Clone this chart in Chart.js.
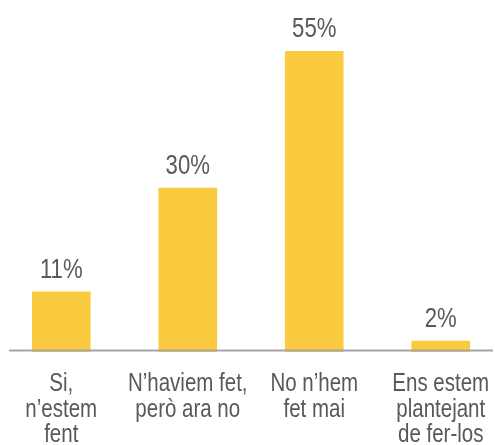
<!DOCTYPE html>
<html>
<head>
<meta charset="utf-8">
<script src="https://cdn.jsdelivr.net/npm/chart.js@4.4.0/dist/chart.umd.min.js"></script>
<style>
    html, body { margin: 0; padding: 0; background: #fff; overflow: hidden; }
    #wrap { position: absolute; left: -2px; top: 0; width: 506px; height: 445px; }
</style>
</head>
<body>
<div id="wrap"><canvas id="chart" width="506" height="445"></canvas></div>
<script>
// Chart data
const categories = [
    ['Si,', 'n\u2019estem', 'fent'],
    ['N\u2019haviem fet,', 'però ara no'],
    ['No n\u2019hem', 'fet mai'],
    ['Ens estem', 'plantejant', 'de fer-los']
];
const values = [11, 30, 55, 2];
const valueLabels = ['11%', '30%', '55%', '2%'];

const fontFamily = '"Liberation Sans", Arial, sans-serif';
const textColor = '#595959';
const narrow = 0.82; // the original uses a narrow face, so squeeze the text horizontally

function drawNarrowText(ctx, text, x, y) {
    ctx.save();
    ctx.translate(x, y);
    ctx.scale(narrow, 1);
    ctx.fillText(text, 0, 0);
    ctx.restore();
}

// Percentages above the bars and category names under the axis
const labelPlugin = {
    id: 'narrowLabels',
    afterDatasetsDraw: function(chart) {
        const ctx = chart.ctx;
        const meta = chart.getDatasetMeta(0);
        const xScale = chart.scales.x;
        const bottom = chart.chartArea.bottom;
        ctx.save();
        ctx.fillStyle = textColor;
        ctx.textAlign = 'center';
        ctx.textBaseline = 'alphabetic';

        ctx.font = '27px ' + fontFamily;
        meta.data.forEach(function(bar, i) {
            drawNarrowText(ctx, valueLabels[i], bar.x, bar.y - 14);
        });

        ctx.font = '25px ' + fontFamily;
        categories.forEach(function(lines, i) {
            const x = xScale.getPixelForValue(i);
            lines.forEach(function(line, j) {
                drawNarrowText(ctx, line, x, bottom + 39 + j * 25.5);
            });
        });
        ctx.restore();
    }
};

// Gray baseline drawn over the bar bottoms
const baseLinePlugin = {
    id: 'baseLine',
    afterDatasetsDraw: function(chart) {
        const ctx = chart.ctx;
        const area = chart.chartArea;
        ctx.save();
        ctx.strokeStyle = '#A6A6A6';
        ctx.lineWidth = 2;
        ctx.beginPath();
        ctx.moveTo(area.left + 11, area.bottom - 1.5);
        ctx.lineTo(area.right - 11, area.bottom - 1.5);
        ctx.stroke();
        ctx.restore();
    }
};

new Chart(document.getElementById('chart'), {
    type: 'bar',
    data: {
        labels: categories,
        datasets: [{
            data: values,
            backgroundColor: '#FBCB3F',
            borderWidth: 0,
            barThickness: 58
        }]
    },
    options: {
        responsive: false,
        animation: false,
        devicePixelRatio: 1,
        layout: {
            autoPadding: false,
            padding: { top: 24, left: 0, right: 0, bottom: 93 }
        },
        plugins: {
            legend: { display: false },
            tooltip: { enabled: false }
        },
        scales: {
            x: {
                display: false,
                offset: true
            },
            y: {
                display: false,
                min: 0,
                max: 60
            }
        }
    },
    plugins: [baseLinePlugin, labelPlugin]
});
</script>
</body>
</html>
